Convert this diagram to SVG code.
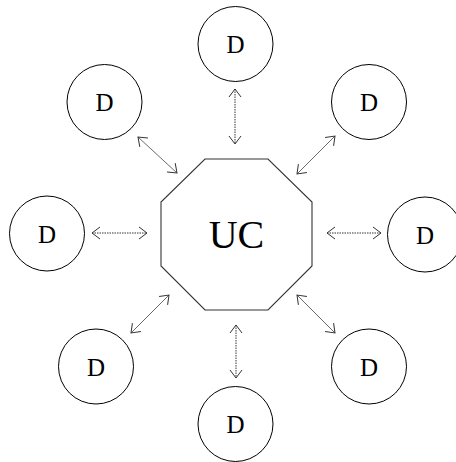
<svg xmlns="http://www.w3.org/2000/svg" width="456" height="462" viewBox="0 0 456 462">
<style>
.d circle{fill:#fff;stroke:#000;stroke-width:1}
.d text{font-family:"Liberation Serif","Times New Roman",serif;font-size:25px;text-anchor:middle;fill:#000}
.uc polygon{fill:#fff;stroke:#333;stroke-width:1.1}
.uc text{font-family:"Liberation Serif","Times New Roman",serif;font-size:40px;text-anchor:middle;fill:#000}
.conn line{stroke:#444;stroke-width:0.8;marker-start:url(#ah);marker-end:url(#ah)}
.conn line.dot{stroke:#333;stroke-width:1;stroke-dasharray:1.5 1}
</style>
<defs>
<marker id="ah" viewBox="-9 -7 10 14" markerWidth="10" markerHeight="14" refX="0" refY="0" orient="auto-start-reverse" markerUnits="userSpaceOnUse">
<path d="M-8,-6 L0,0 L-8,6" fill="none" stroke="#333" stroke-width="1"/>
</marker>
</defs>
<g id="connectors" class="conn">
<line class="dot" x1="235" y1="89" x2="235" y2="144"/>
<line class="dot" x1="236" y1="325" x2="236" y2="378"/>
<line class="dot" x1="92" y1="233" x2="147" y2="233"/>
<line class="dot" x1="327" y1="233" x2="381" y2="233"/>
<line x1="138" y1="137" x2="177" y2="173"/>
<line x1="335" y1="136" x2="297" y2="174"/>
<line x1="169" y1="295" x2="131" y2="333"/>
<line x1="297" y1="295" x2="335" y2="333"/>
</g>
<g id="uc" class="uc">
<polygon points="205,159 268,159 312,202 312,266 268,310 205,310 161,266 161,202"/>
<text x="236.5" y="248">UC</text>
</g>
<g id="d-top" class="d"><circle cx="235.5" cy="44" r="37.5"/><text x="235.5" y="53">D</text></g>
<g id="d-bottom" class="d"><circle cx="235.5" cy="424" r="37.5"/><text x="235.5" y="433">D</text></g>
<g id="d-left" class="d"><circle cx="47" cy="233.5" r="37.5"/><text x="47" y="242.5">D</text></g>
<g id="d-right" class="d"><circle cx="425" cy="234.5" r="37.5"/><text x="425" y="243.5">D</text></g>
<g id="d-upleft" class="d"><circle cx="104.5" cy="102" r="37.5"/><text x="104.5" y="111">D</text></g>
<g id="d-upright" class="d"><circle cx="369" cy="102" r="37.5"/><text x="369" y="111">D</text></g>
<g id="d-lowleft" class="d"><circle cx="96" cy="366.5" r="37.5"/><text x="96" y="375.5">D</text></g>
<g id="d-lowright" class="d"><circle cx="369" cy="366.5" r="37.5"/><text x="369" y="375.5">D</text></g>
</svg>
